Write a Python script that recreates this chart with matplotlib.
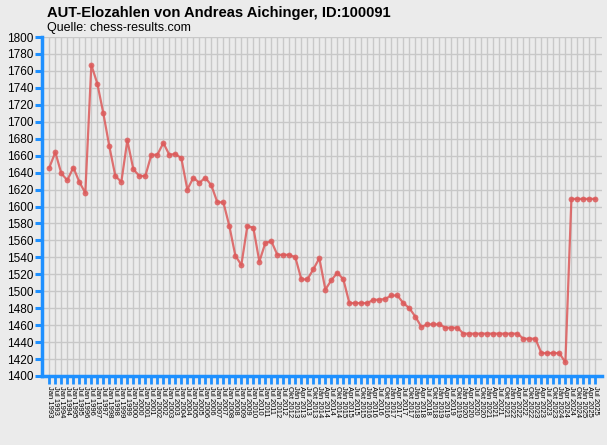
import numpy as np
import matplotlib
matplotlib.use("Agg")
import matplotlib.pyplot as plt

# Elo values, one per rating list
elo = [1646, 1664, 1639, 1631, 1646, 1629, 1616, 1767, 1745, 1710,
       1671, 1636, 1629, 1678, 1644, 1636, 1636, 1661, 1661, 1675,
       1661, 1662, 1657, 1620, 1634, 1628, 1634, 1625, 1605, 1605,
       1577, 1542, 1531, 1577, 1575, 1535, 1557, 1559, 1543, 1543,
       1543, 1540, 1514, 1514, 1526, 1539, 1502, 1513, 1522, 1514,
       1486, 1486, 1486, 1486, 1490, 1490, 1491, 1495, 1495, 1486,
       1480, 1470, 1458, 1461, 1461, 1461, 1457, 1457, 1457, 1450,
       1450, 1450, 1450, 1450, 1450, 1450, 1450, 1450, 1450, 1444,
       1444, 1444, 1427, 1427, 1427, 1427, 1416, 1609, 1609, 1609,
       1609, 1609]

# list dates (semiannual first, then quarterly)
dates = ["Jan 1993", "Jul 1993", "Jan 1994", "Jul 1994", "Jan 1995", "Jul 1995",
         "Jan 1996", "Jul 1996", "Jan 1997", "Jul 1997", "Jan 1998", "Jul 1998",
         "Jan 1999", "Jul 1999", "Jan 2000", "Jul 2000", "Jan 2001", "Jul 2001",
         "Jan 2002", "Jul 2002", "Jan 2003", "Jul 2003", "Jan 2004", "Jul 2004",
         "Jan 2005", "Jul 2005", "Jan 2006", "Jul 2006", "Jan 2007", "Jul 2007",
         "Jan 2008", "Jul 2008", "Jan 2009", "Jul 2009", "Jan 2010", "Jul 2010",
         "Jan 2011", "Jul 2011", "Jan 2012", "Jul 2012",
         "Okt 2012",
         "Jan 2013", "Apr 2013", "Jul 2013", "Okt 2013",
         "Jan 2014", "Apr 2014", "Jul 2014", "Okt 2014",
         "Jan 2015", "Apr 2015", "Jul 2015", "Okt 2015",
         "Jan 2016", "Apr 2016", "Jul 2016", "Okt 2016",
         "Jan 2017", "Apr 2017", "Jul 2017", "Okt 2017",
         "Jan 2018", "Apr 2018", "Jul 2018", "Okt 2018",
         "Jan 2019", "Apr 2019", "Jul 2019", "Okt 2019",
         "Jan 2020", "Apr 2020", "Jul 2020", "Okt 2020",
         "Jan 2021", "Apr 2021", "Jul 2021", "Okt 2021",
         "Jan 2022", "Apr 2022", "Jul 2022", "Okt 2022",
         "Jan 2023", "Apr 2023", "Jul 2023", "Okt 2023",
         "Jan 2024", "Apr 2024", "Jul 2024", "Okt 2024",
         "Jan 2025", "Apr 2025", "Jul 2025"]

yticks = list(range(1400, 1801, 20))

bg = "#ebebeb"
blue = "#1e90ff"

plt.rcParams["font.family"] = ["Liberation Sans", "DejaVu Sans"]

fig = plt.figure(figsize=(6.07, 4.45), dpi=100, facecolor=bg)
ax = fig.add_axes([42/607, 69/445, 560/607, 339/445])
ax.set_facecolor(bg)

x = np.arange(len(elo))
ax.plot(x, elo, color="#dc5a5a", alpha=0.85, lw=1.6, marker="o", ms=4.2,
        markeredgewidth=0, zorder=3)

ax.set_xlim(-1.22, len(elo) - 1 + 1.1)
ax.set_ylim(1400, 1800)
ax.set_yticks(yticks)
ax.set_xticks(x)
ax.set_xticklabels(dates, rotation=-90, fontsize=5.5, va="top", ha="center")
ax.tick_params(axis="y", labelsize=8.5, color=blue, length=5, width=2.2, pad=1)
ax.tick_params(axis="x", color=blue, length=5.5, width=2, pad=2)

ax.grid(True, color="#c8c8c8", lw=1)
ax.set_axisbelow(True)

for s in ["top", "right"]:
    ax.spines[s].set_visible(False)
for s in ["left", "bottom"]:
    ax.spines[s].set_color(blue)
    ax.spines[s].set_linewidth(2.5)

fig.text(47/607, 1 - 17/445, "AUT-Elozahlen von Andreas Aichinger, ID:100091",
         fontsize=10.6, fontweight="bold", va="baseline")
fig.text(47/607, 1 - 31/445, "Quelle: chess-results.com", fontsize=9, va="baseline")

fig.savefig("out.png", dpi=100, facecolor=bg)
